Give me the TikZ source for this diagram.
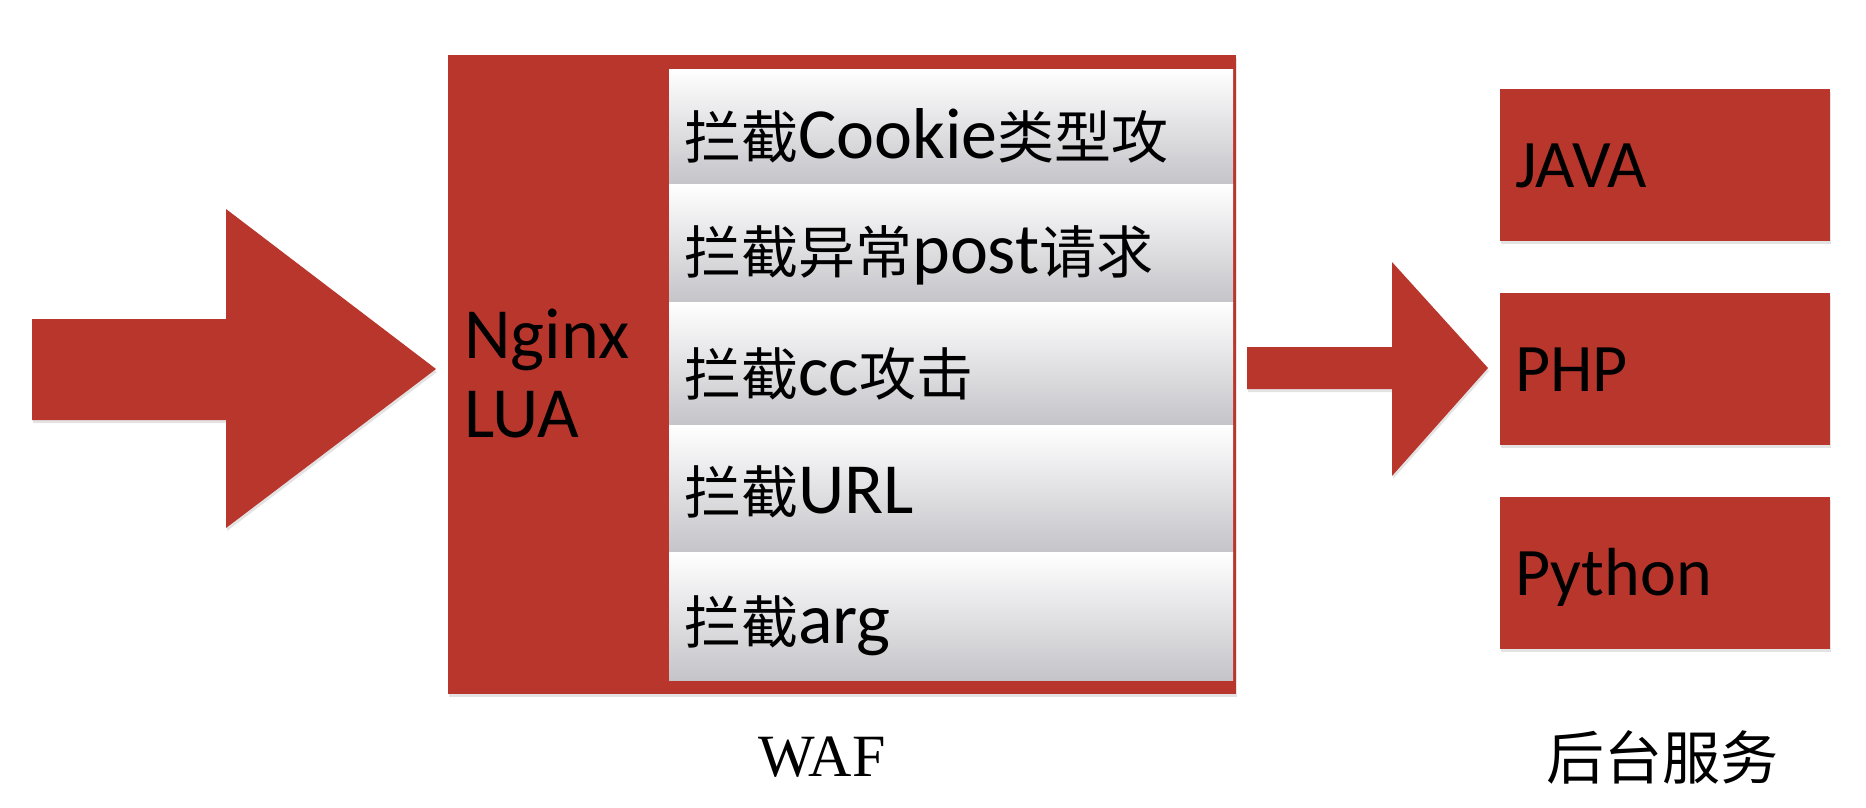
\documentclass[tikz,border=0pt]{standalone}
\usepackage{fontspec}
\setmainfont{Carlito}
\newfontfamily\cjk{Noto Sans CJK SC}
\newfontfamily\timesfont{Liberation Serif}
\usetikzlibrary{shadows}

\definecolor{wafred}{RGB}{185,54,44}
\definecolor{panelgray}{RGB}{196,196,201}
\newcommand{\zh}[1]{{\cjk\fontsize{57}{60}\selectfont #1}}

\tikzset{
  softshadow/.style={drop shadow={shadow xshift=1pt, shadow yshift=-3pt, opacity=0.22}},
  redblock/.style={rectangle, inner sep=0pt, fill=wafred, draw=none, softshadow},
  filterbox/.style={rectangle, inner sep=0pt, anchor=north west, minimum width=564pt,
    top color=white, bottom color=panelgray, draw=none},
  filtertext/.style={anchor=base west, inner sep=0pt, font=\fontsize{72}{80}\selectfont},
  backend/.style={redblock, anchor=north west, minimum width=330pt, minimum height=152pt,
    text width=300pt, align=left, text height=44pt, text depth=0pt,
    font=\fontsize{68}{76}\selectfont},
  caption/.style={inner sep=0pt}
}

\begin{document}
\begin{tikzpicture}[x=1pt,y=-1pt]
			\useasboundingbox (0,0) rectangle (1866,808);
			% incoming traffic
			\fill[wafred, softshadow] (32,319) -- (226,319) -- (226,209) -- (436,369) -- (226,528) -- (226,420) -- (32,420) -- cycle;
			% waf block
			\node[redblock, anchor=north west, minimum width=788pt, minimum height=639pt](waf) at (448,55){};
			\node[filtertext](nginx) at (464,358){Nginx};
			\node[filtertext](lua) at (464,437){LUA};
			\node[filterbox, minimum height=115pt](f1) at (669,69){};
			\node[filterbox, minimum height=118pt](f2) at (669,184){};
			\node[filterbox, minimum height=123pt](f3) at (669,302){};
			\node[filterbox, minimum height=127pt](f4) at (669,425){};
			\node[filterbox, minimum height=128pt](f5) at (669,552){};
			\node[filtertext](t1) at (684,158){\zh{拦截}Cookie\zh{类型攻}};
			\node[filtertext](t2) at (684,273){\zh{拦截异常}post\zh{请求}};
			\node[filtertext](t3) at (684,395){\zh{拦截}cc\zh{攻击}};
			\node[filtertext](t4) at (684,513){\zh{拦截}URL};
			\node[filtertext](t5) at (684,643){\zh{拦截}arg};
			\node[caption, font=\timesfont\fontsize{60}{64}\selectfont](wafcap) at (822,757){WAF};
			% forward to backend
			\fill[wafred, softshadow] (1247,347) -- (1392,347) -- (1392,262) -- (1488,368) -- (1392,476) -- (1392,389) -- (1247,389) -- cycle;
			\node[backend](java) at (1500,89){JAVA};
			\node[backend](php) at (1500,293){PHP};
			\node[backend](python) at (1500,497){Python};
			\node[caption, font=\cjk\fontsize{58}{62}\selectfont](backcap) at (1662,757){后台服务};
\end{tikzpicture}
\end{document}
